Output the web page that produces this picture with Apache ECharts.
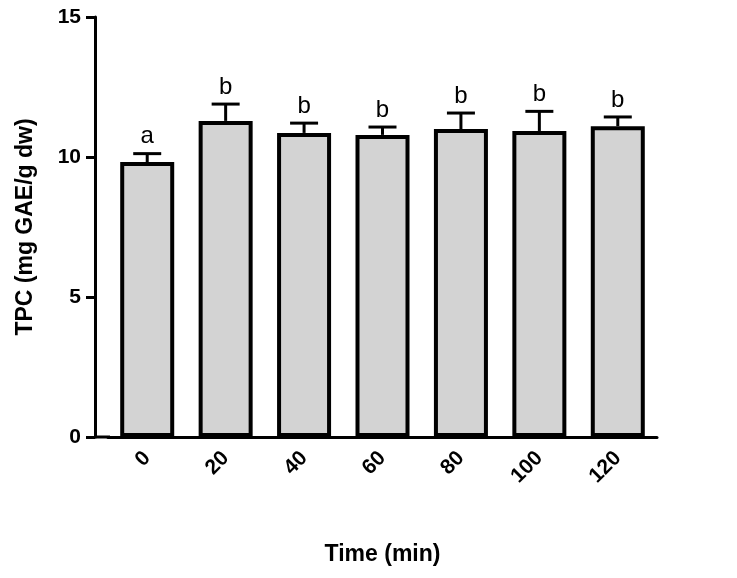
<!DOCTYPE html><html><head><meta charset="utf-8"><script src="https://cdn.jsdelivr.net/npm/echarts@6/dist/echarts.min.js"></script></head><body style="margin:0"><div id="c" style="width:737px;height:578px"></div><script>
const categories=['0','20','40','60','80','100','120'];
const values=[9.82,11.29,10.86,10.79,11.0,10.93,11.1];
const errors=[0.3,0.6,0.35,0.28,0.57,0.7,0.33];
const letters=['a','b','b','b','b','b','b'];
const yTicks=[0,5,10,15];
const ch=echarts.init(document.getElementById('c'));
const F='Liberation Sans, Arial, sans-serif';
ch.setOption({animation:false,
grid:{left:108,right:80,top:17,bottom:141},
graphic:[{type:'line',shape:{x1:94,y1:437,x2:110,y2:437},style:{stroke:'#000',lineWidth:3}}],
xAxis:{type:'category',data:categories,axisLine:{lineStyle:{color:'#000',width:3}},axisTick:{length:9,lineStyle:{width:3},alignWithLabel:true},
axisLabel:{rotate:45,color:'#000',fontWeight:'bold',fontSize:21,fontFamily:F,margin:18},
name:'Time (min)',nameLocation:'middle',nameGap:106,nameTextStyle:{color:'#000',fontWeight:'bold',fontSize:23,fontFamily:F}},
yAxis:{type:'value',min:0,max:15,interval:5,offset:13,splitLine:{show:false},axisLine:{show:true,lineStyle:{color:'#000',width:3}},axisTick:{show:true,inside:false,length:9,lineStyle:{width:3}},
axisLabel:{color:'#000',fontWeight:'bold',fontSize:21,fontFamily:F,margin:14,formatter:v=>yTicks.includes(v)?String(v):''},
name:'TPC (mg GAE/g dw)',nameLocation:'middle',nameGap:58,nameTextStyle:{color:'#000',fontWeight:'bold',fontSize:23,fontFamily:F}},
series:[{type:'bar',data:values,barWidth:54,itemStyle:{color:'#d3d3d3',borderColor:'#000',borderWidth:4}},
{type:'custom',data:values.map((v,i)=>[i,v,v+errors[i],letters[i]]),z:5,
renderItem:(p,api)=>{const a=api.coord([api.value(0),api.value(1)]),b=api.coord([api.value(0),api.value(2)]);
return {type:'group',children:[
{type:'line',shape:{x1:a[0],y1:a[1],x2:b[0],y2:b[1]},style:{stroke:'#000',lineWidth:3}},
{type:'line',shape:{x1:b[0]-14,y1:b[1],x2:b[0]+14,y2:b[1]},style:{stroke:'#000',lineWidth:3}},
{type:'text',x:b[0],y:b[1]-5,style:{text:letters[p.dataIndex],fill:'#000',font:'24px '+F,align:'center',verticalAlign:'bottom'}}]};}}]});
</script></body></html>
